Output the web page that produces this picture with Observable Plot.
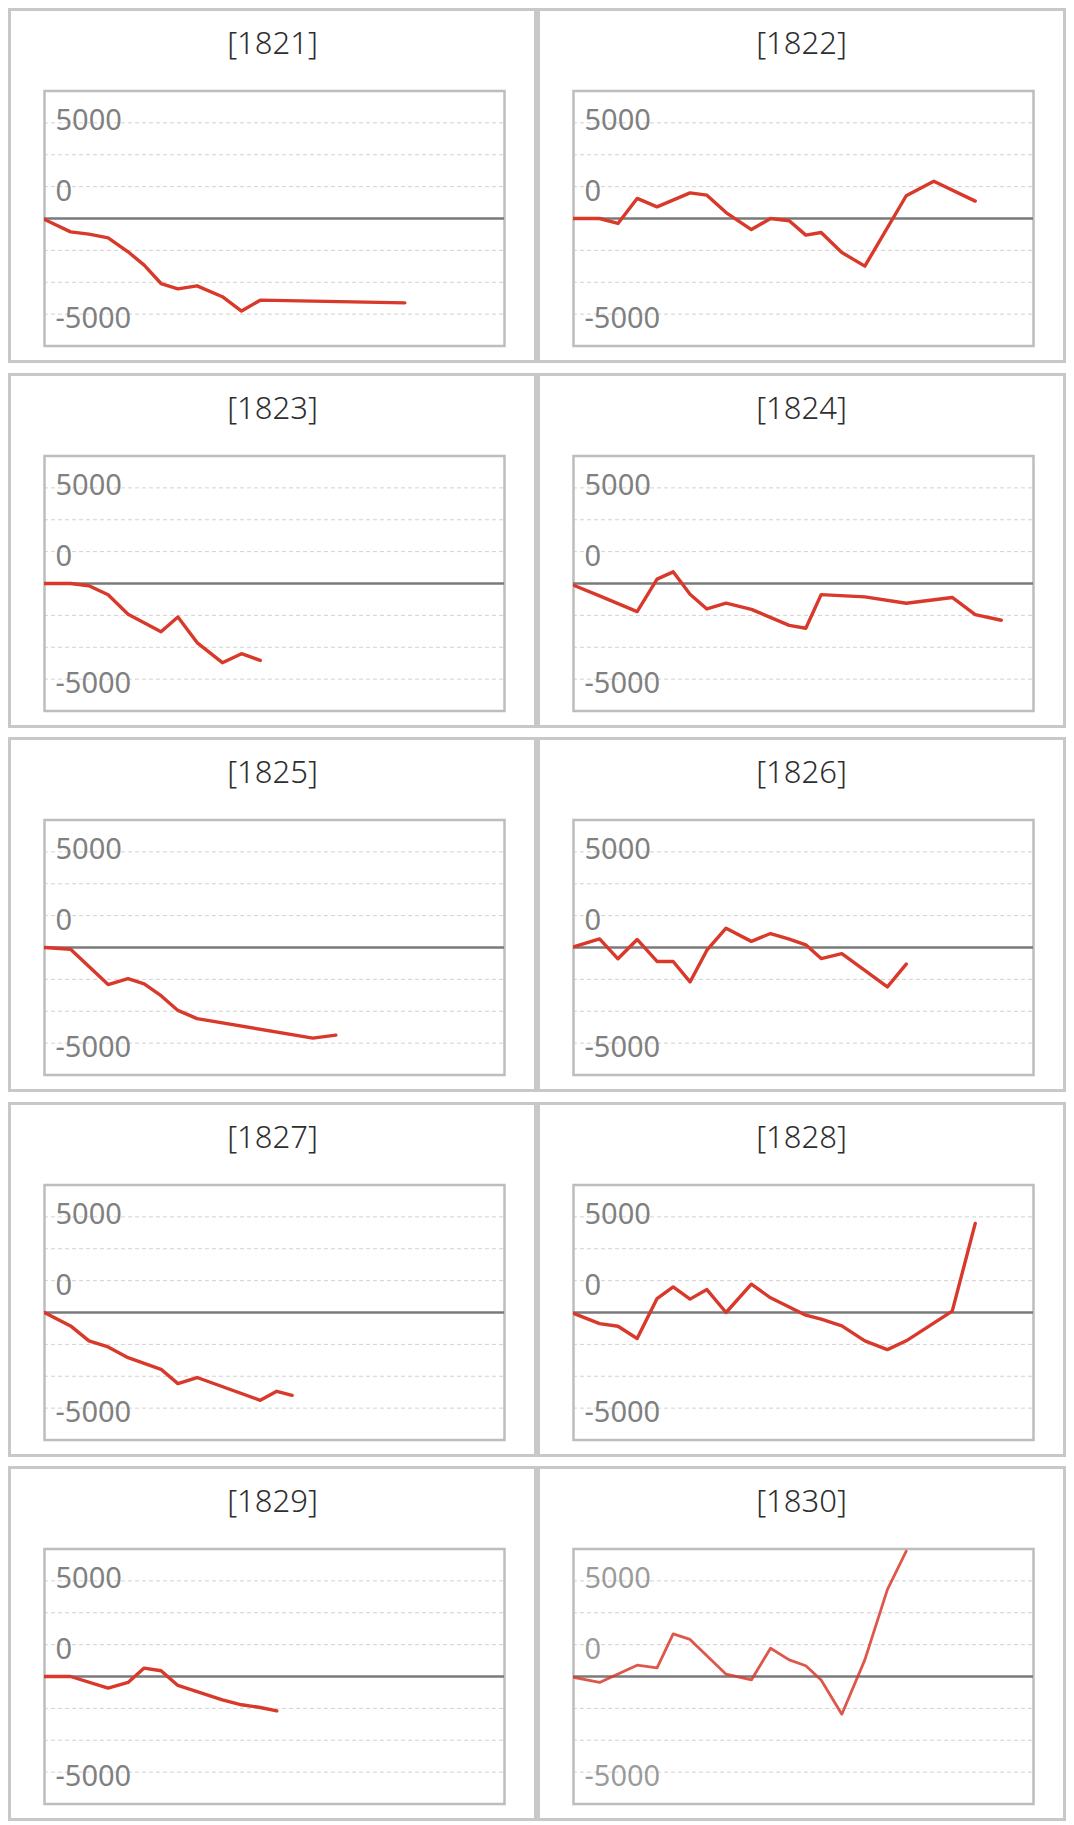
<!DOCTYPE html>
<html>
<head>
<meta charset="utf-8">
<script src="https://cdn.jsdelivr.net/npm/d3@7"></script>
<script src="https://cdn.jsdelivr.net/npm/@observablehq/plot@0.6"></script>
<style>
  html, body { margin: 0; padding: 0; background: #fff; }
  #grid { position: relative; width: 1074px; height: 1825px; }
  .cell { position: absolute; box-sizing: border-box; width: 529px; height: 355px;
          border: 3px solid #c8c8c8; background: #fff; }
  .title { position: absolute; left: 0; right: 0; top: 16px; text-align: center;
           font: 300 31px/31px "Noto Sans", "Noto Sans CJK JP", sans-serif; color: #2e2e2e; }
  .cell svg { position: absolute; left: 0; top: 70px; }
</style>
</head>
<body>
<div id="grid"></div>
<script>
// ---- data ----
const codes = ["1821", "1822", "1823", "1824", "1825", "1826", "1827", "1828", "1829", "1830"];
// shared time positions (hidden x axis)
const t = [0, 1.7, 2.9, 4.15, 5.45, 6.5, 7.6, 8.7, 9.95, 11.6, 12.85, 14.07, 15.15, 16.15, 17.5, 19.0, 20.47, 21.7, 23.5, 24.7, 26.2, 27.9];
const _ = null;
const v1821 = [-50, -700, -820, -1010, -1740, -2440, -3400, -3680, -3520, -4090, -4840, -4270, _, _, _, _, _, _, -4410, _, _, _];
const v1822 = [0, 0, -260, 1050, 610, _, 1340, 1220, 310, -580, 0, -120, -870, -730, -1780, -2490, _, 1190, 1950, _, 910, _];
const v1823 = [0, 0, -120, -590, -1610, _, -2520, -1750, -3090, -4140, -3670, -4020, _, _, _, _, _, _, _, _, _, _];
const v1824 = [-90, -650, _, -1470, 230, 610, -560, -1330, -1030, -1350, _, -2190, -2340, -580, _, -700, _, -1030, _, -730, -1630, -1920];
const v1825 = [0, -90, _, -1940, -1630, -1900, -2520, -3290, -3720, _, _, _, _, _, -4740, -4580, _, _, _, _, _, _];
const v1826 = [35, 450, -590, 420, -730, -730, -1800, -140, 1010, 320, 730, 440, 140, -580, -320, _, -2060, -870, _, _, _, _];
const v1827 = [0, -700, -1480, -1800, -2360, _, -2970, -3720, -3400, _, _, -4590, -4120, -4330, _, _, _, _, _, _, _, _];
const v1828 = [-50, -580, -720, -1360, 730, 1340, 700, 1200, 0, 1480, 770, _, -140, -350, -700, -1480, -1940, -1480, _, 70, 4660, _];
const v1829 = [0, 0, _, -610, -310, 440, 300, -470, -790, -1220, -1480, -1620, -1800, _, _, _, _, _, _, _, _, _];
const v1830 = [-50, -310, _, 590, 450, 2230, 1940, _, 120, -180, 1480, 870, 560, -180, -1970, 870, 4540, 6550, _, _, _, _];
const values = [v1821, v1822, v1823, v1824, v1825, v1826, v1827, v1828, v1829, v1830];
const yTicks = [5000, 0, -5000];
const yTickLabels = ["5000", "0", "-5000"];
const yStep = 5000 / 3;

// ---- styling / layout ----
const labelDy = [-2, -27, 4.5];
const fadedPanel = "1830";
const W = 523, H = 279;
const font = '"Noto Sans", "Noto Sans CJK JP", sans-serif';
const gridValues = d3.range(-3, 4).filter(k => k !== 0).map(k => k * yStep);

const grid = document.getElementById("grid");
codes.forEach((code, i) => {
  const row = Math.floor(i / 2), col = i % 2;
  const cell = document.createElement("div");
  cell.className = "cell";
  cell.style.left = (8 + col * 529) + "px";
  cell.style.top = (8 + row * 364.5) + "px";
  const title = document.createElement("div");
  title.className = "title";
  title.textContent = "[" + code + "]";
  cell.appendChild(title);

  const data = t.map((x, k) => ({x, v: values[i][k]})).filter(d => d.v != null);
  const faded = code === fadedPanel;
  const labels = yTicks.map((y, k) => ({y, label: yTickLabels[k]}));

  const chart = Plot.plot({
    width: W, height: H,
    marginLeft: 33, marginRight: 30, marginTop: 9.5, marginBottom: 14.5,
    x: {domain: [0, 30], axis: null},
    y: {domain: [-4 * yStep, 4 * yStep], axis: null},
    style: {fontFamily: font, background: "transparent", overflow: "visible"},
    marks: [
      Plot.ruleY(gridValues, {stroke: "#d2d2d2", strokeWidth: 1, strokeDasharray: "4,3"}),
      Plot.frame({stroke: "#bdbdbd", strokeWidth: 2.5}),
      Plot.ruleY([0], {stroke: "#7a7a7a", strokeWidth: 2.7}),
      Plot.line(data, {x: "x", y: "v", stroke: "#d8392b", strokeWidth: faded ? 2.8 : 3.4,
                       strokeOpacity: faded ? 0.85 : 1, clip: true}),
      ...labels.map((d, k) => Plot.text([d], {
        y: "y", text: "label", frameAnchor: "left", textAnchor: "start",
        dx: 11, dy: labelDy[k], fontSize: 29, fill: "#808080",
        fillOpacity: faded ? 0.78 : 1
      }))
    ]
  });
  cell.appendChild(chart);
  grid.appendChild(cell);
});
</script>
</body>
</html>
